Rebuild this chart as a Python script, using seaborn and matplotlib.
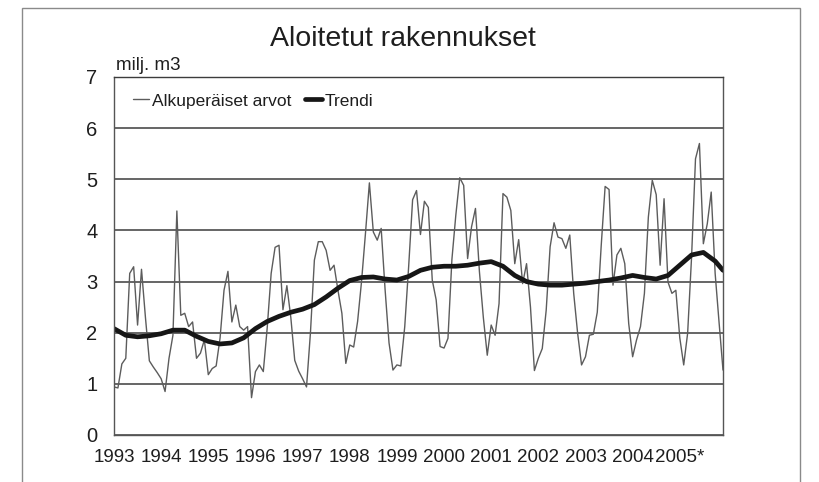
import numpy as np
import pandas as pd
import matplotlib
matplotlib.use("Agg")
import matplotlib.pyplot as plt
from matplotlib.patches import Rectangle
import seaborn as sns

# Aloitetut rakennukset, milj. m3, monthly Jan 1993 - Dec 2005
year_labels = [str(y) for y in range(1993, 2005)] + ["2005*"]

orig_1993 = [0.94, 0.92, 1.39, 1.50, 3.16, 3.29, 2.15, 3.24, 2.30, 1.45, 1.33, 1.22]
orig_1994 = [1.10, 0.85, 1.50, 1.95, 4.38, 2.34, 2.38, 2.12, 2.21, 1.50, 1.60, 1.86]
orig_1995 = [1.18, 1.30, 1.35, 1.90, 2.83, 3.20, 2.21, 2.54, 2.12, 2.05, 2.12, 0.73]
orig_1996 = [1.24, 1.37, 1.24, 2.10, 3.16, 3.67, 3.71, 2.45, 2.92, 2.30, 1.46, 1.25]
orig_1997 = [1.10, 0.94, 2.00, 3.42, 3.78, 3.78, 3.61, 3.22, 3.32, 2.83, 2.38, 1.40]
orig_1998 = [1.76, 1.72, 2.22, 3.00, 3.94, 4.93, 3.97, 3.81, 4.04, 2.84, 1.80, 1.27]
orig_1999 = [1.37, 1.35, 2.12, 3.30, 4.60, 4.78, 3.92, 4.57, 4.45, 3.03, 2.64, 1.73]
orig_2000 = [1.70, 1.89, 3.43, 4.30, 5.03, 4.88, 3.45, 4.07, 4.43, 3.20, 2.30, 1.56]
orig_2001 = [2.15, 1.95, 2.57, 4.72, 4.65, 4.39, 3.35, 3.82, 2.96, 3.35, 2.50, 1.26]
orig_2002 = [1.50, 1.69, 2.44, 3.68, 4.15, 3.87, 3.84, 3.65, 3.91, 2.77, 1.99, 1.37]
orig_2003 = [1.53, 1.95, 1.97, 2.40, 3.70, 4.86, 4.80, 2.93, 3.52, 3.65, 3.35, 2.18]
orig_2004 = [1.53, 1.86, 2.12, 2.77, 4.26, 4.98, 4.70, 3.32, 4.62, 2.99, 2.77, 2.83]
orig_2005 = [1.90, 1.37, 1.99, 3.48, 5.40, 5.70, 3.74, 4.13, 4.75, 3.16, 2.20, 1.27]

# trend read every third month (plus the last month)
trend_values = [2.08, 1.95, 1.92, 1.94, 1.98, 2.05, 2.05, 1.93, 1.83, 1.78,
                1.80, 1.90, 2.08, 2.22, 2.32, 2.40, 2.46, 2.55, 2.70, 2.87,
                3.02, 3.08, 3.09, 3.05, 3.03, 3.10, 3.22, 3.28, 3.30, 3.30,
                3.32, 3.36, 3.39, 3.30, 3.12, 3.00, 2.95, 2.93, 2.93, 2.95,
                2.97, 3.00, 3.03, 3.07, 3.12, 3.08, 3.05, 3.12, 3.32, 3.52,
                3.57, 3.40, 3.22]

original = (orig_1993 + orig_1994 + orig_1995 + orig_1996 + orig_1997 + orig_1998
            + orig_1999 + orig_2000 + orig_2001 + orig_2002 + orig_2003
            + orig_2004 + orig_2005)
months = np.arange(len(original))
trend_months = list(range(0, len(original), 3)) + [len(original) - 1]

df = pd.DataFrame({"kk": months, "arvo": original})
df_trend = pd.DataFrame({"kk": trend_months, "arvo": trend_values})

sns.set_style("white")
plt.rcParams["font.family"] = ["Liberation Sans", "DejaVu Sans"]
text_col = "#1e1e1e"

fig = plt.figure(figsize=(8.19, 4.82), dpi=100)
ax = fig.add_axes([114 / 819, 1 - 435 / 482, (723 - 114) / 819, (435 - 77) / 482])

sns.lineplot(data=df, x="kk", y="arvo", ax=ax, color="#5c5c5c", lw=1.0,
             label="Alkuperäiset arvot")
sns.lineplot(data=df_trend, x="kk", y="arvo", ax=ax, color="#161616", lw=3.4,
             label="Trendi")

ax.set_xlim(0, len(original) - 1)
ax.set_ylim(0, 7)
ax.set_yticks(range(8))
ax.set_xticks(range(0, len(original), 12))
ax.set_xticklabels(year_labels)
ax.set_xlabel("")
ax.set_ylabel("")
ax.grid(axis="y", color="#3c3c3c", lw=1.1)
ax.set_axisbelow(True)
for side in ["left", "right", "top", "bottom"]:
    ax.spines[side].set_visible(True)
    ax.spines[side].set_color("#555555")
    ax.spines[side].set_linewidth(1.0)
ax.spines["top"].set_color("#3c3c3c")
ax.tick_params(axis="x", length=6, width=1, color="#555555", labelsize=13.5,
               labelcolor=text_col, pad=4)
ax.tick_params(axis="y", length=7, width=1, color="#555555", labelsize=14.5,
               labelcolor=text_col, pad=5)

ax.legend(loc="center left", bbox_to_anchor=(0.031, 0.933), ncol=2, frameon=False,
          fontsize=12.5, handlelength=0.95, handletextpad=0.15, columnspacing=0.8,
          borderpad=0, borderaxespad=0, labelcolor=text_col)

fig.text(403 / 819, 1 - 46 / 482, "Aloitetut rakennukset", ha="center",
         va="baseline", fontsize=20.5, color=text_col)
fig.text(116 / 819, 1 - 70 / 482, "milj. m3", ha="left", va="baseline",
         fontsize=13.5, color=text_col)

# chart area frame
fig.patches.append(Rectangle((22 / 819, -0.05), (800 - 22) / 819, 1.05 - 8 / 482,
                             transform=fig.transFigure, fill=False,
                             edgecolor="#8a8a8a", lw=1.0))

fig.savefig("out.png", dpi=100)
